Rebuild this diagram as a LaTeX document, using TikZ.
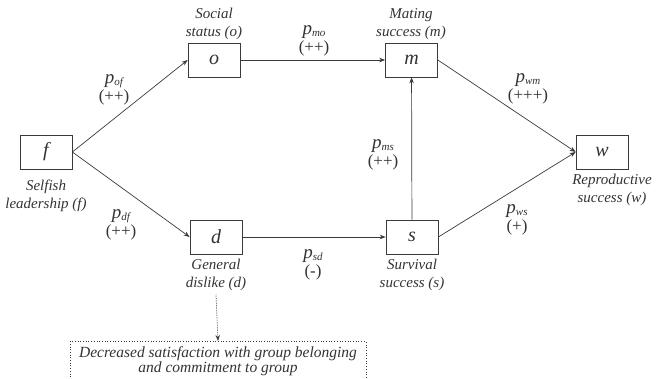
\documentclass[tikz,border=0pt]{standalone}
\usepackage{fontspec}
\setmainfont{Liberation Serif}
\usetikzlibrary{arrows.meta}
\definecolor{linec}{HTML}{3A3A3A}
\definecolor{txtc}{HTML}{333333}
\tikzset{
 var/.style={draw=linec, line width=0.7pt, minimum width=52pt, minimum height=34pt, inner sep=0pt, font=\fontsize{20}{20}\selectfont\itshape, text=txtc},
 lbl/.style={align=center, font=\fontsize{15}{17.5}\selectfont\itshape, text=txtc, inner sep=0pt},
 plab/.style={align=center, font=\fontsize{17}{17.5}\selectfont, text=txtc, inner sep=0pt},
 conn/.style={draw=linec, line width=0.7pt, -{Stealth[length=6pt,width=4.5pt]}},
 decbox/.style={draw=linec, dotted, line width=0.7pt, align=center, font=\fontsize{15.5}{15}\selectfont\itshape, text=txtc, minimum width=296pt, minimum height=40pt, inner sep=0pt},
}
\newcommand{\pp}[1]{{\fontsize{19}{19}\selectfont\itshape p}\raisebox{-1.5pt}{\fontsize{11}{11}\selectfont\itshape #1}}
\begin{document}
\begin{tikzpicture}[x=1pt,y=-1pt]
\clip (0,0) rectangle (663,378);
\node[var] (f) at (46,152) {f};
\node[var] (o) at (214,60) {o};
\node[var] (m) at (411.5,60) {m};
\node[var] (w) at (602,152) {w};
\node[var] (d) at (216,237) {d};
\node[var] (s) at (412,237) {s};
\node[lbl] (ol) at (214,24) {Social\\status (o)};
\node[lbl] (ml) at (411,24) {Mating\\success (m)};
\node[lbl] (fl) at (46,196) {Selfish\\leadership (f)};
\node[lbl] (wl) at (612,190) {Reproductive\\success (w)};
\node[lbl] (dl) at (216,275) {General\\dislike (d)};
\node[lbl] (sl) at (412,275) {Survival\\success (s)};
\node[plab] (pof) at (114,90) {\pp{of}\\(++)};
\node[plab] (pmo) at (314,41) {\pp{mo}\\(++)};
\node[plab] (pwm) at (528,89) {\pp{wm}\\(+++)};
\node[plab] (pms) at (383,155) {\pp{ms}\\(++)};
\node[plab] (pdf) at (121,225) {\pp{df}\\(++)};
\node[plab] (psd) at (313,265) {\pp{sd}\\(-)};
\node[plab] (pws) at (517,220) {\pp{ws}\\(+)};
\node[decbox, anchor=north] (dec) at (218,341) {Decreased satisfaction with group belonging\\and commitment to group};
\draw[conn] (f.east) -- (o.west);
\draw[conn] (f.east) -- (d.west);
\draw[conn] (o) -- (m);
\draw[conn] (d) -- (s);
\draw[conn] (s) -- (m);
\draw[conn] (m.east) -- (w.west);
\draw[conn] (s.east) -- (w.west);
\draw[conn, densely dotted] ([yshift=-4pt]dl.south) -- (dec.north);
\end{tikzpicture}
\end{document}
